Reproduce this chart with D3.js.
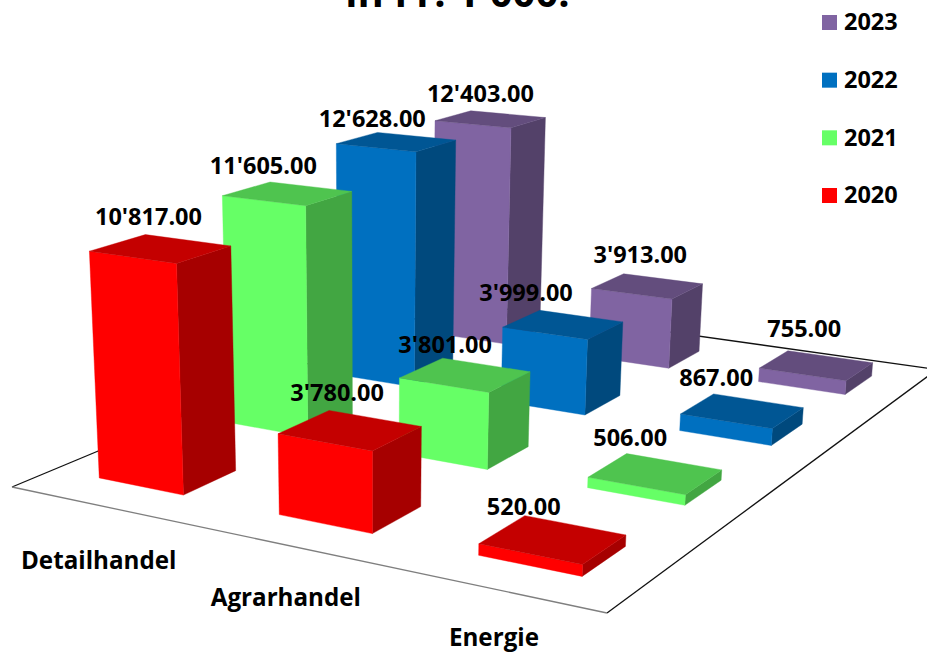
<!DOCTYPE html>
<html>
<head>
<meta charset="utf-8">
<script src="https://cdn.jsdelivr.net/npm/d3@7"></script>
<style>
  html, body { margin: 0; padding: 0; background: #fff; overflow: hidden; }
  svg { display: block; font-family: "Open Sans", Lato, sans-serif; font-weight: 700; }
</style>
</head>
<body>
<div id="chart"></div>
<script>
const categories = ["Detailhandel", "Agrarhandel", "Energie"];
const years = ["2020", "2021", "2022", "2023"];
const values2020 = [10817, 3780, 520];
const values2021 = [11605, 3801, 506];
const values2022 = [12628, 3999, 867];
const values2023 = [12403, 3913, 755];
const seriesValues = [values2020, values2021, values2022, values2023];
const seriesColors = ["#ff0000", "#66ff66", "#0070c0", "#8064a2"];
const title = "in Fr. 1'000.";

const width = 927, height = 653;

// floor corners on screen: left, front, right, back (right one is past the page edge)
const floor = [[12, 487], [607, 613], [937, 369.5], [455, 302]];
// vanishing point of the vertical edges
const vanish = [370, 6700];

// label nudges from the centre of each bar top, [category][series]
const labelNudge = [
  [[-12, -32], [-24, -28], [-24, -23], [-10, -25]],
  [[-13, -37], [-20, -30], [-37, -32], [-7, -31]],
  [[-29, -33], [-25, -36], [-26, -33], [-12, -37]]
];
const categoryLabelDy = [55, 53, 48];

const homography = squareToQuad(floor);

const uScale = d3.scaleBand().domain(categories).range([0, 1]).paddingInner(0.52).paddingOuter(0.26);
const vScale = d3.scaleBand().domain(years).range([0, 1]).paddingInner(0.6).paddingOuter(0.3);
const zScale = d3.scaleLinear().domain([0, 1000]).range([0, 0.00329]);
const legendY = d3.scalePoint().domain(years.slice().reverse()).range([22, 195]);

function squareToQuad(q) {
  const [[x0, y0], [x1, y1], [x2, y2], [x3, y3]] = q;
  const dx1 = x1 - x2, dx2 = x3 - x2, sx = x0 - x1 + x2 - x3;
  const dy1 = y1 - y2, dy2 = y3 - y2, sy = y0 - y1 + y2 - y3;
  const det = dx1 * dy2 - dx2 * dy1;
  const g = (sx * dy2 - dx2 * sy) / det;
  const h = (dx1 * sy - sx * dy1) / det;
  return {
    a: x1 - x0 + g * x1, b: x3 - x0 + h * x3, c: x0,
    d: y1 - y0 + g * y1, e: y3 - y0 + h * y3, f: y0,
    g, h
  };
}

// u along the front edge, v into the depth, z up
function project(u, v, z) {
  const m = homography;
  const w = m.g * u + m.h * v + 1;
  const x = (m.a * u + m.b * v + m.c) / w;
  const y = (m.d * u + m.e * v + m.f) / w;
  const s = w / (w - z);
  return [vanish[0] + (x - vanish[0]) * s, vanish[1] + (y - vanish[1]) * s];
}

function shade(color, k) {
  const c = d3.rgb(color);
  return d3.rgb(c.r * k, c.g * k, c.b * k).formatHex();
}

function formatValue(n) {
  return d3.format(",.2f")(n).replace(/,/g, "'");
}

const svg = d3.select("#chart").append("svg")
  .attr("width", width)
  .attr("height", height)
  .attr("viewBox", [0, 0, width, height]);

const line = d3.line();

// Floor
svg.append("path")
  .attr("d", line(floor) + "Z")
  .attr("fill", "#fff")
  .attr("stroke", "none");
[[3, 0, "#111"], [3, 2, "#111"], [2, 1, "#111"], [0, 1, "#7f7f7f"]].forEach(([a, b, color]) => {
  svg.append("path")
    .attr("d", line([floor[a], floor[b]]))
    .attr("fill", "none")
    .attr("stroke", color)
    .attr("stroke-width", 1.3);
});

// Bars, back row first
const bars = [];
years.forEach((year, s) => {
  categories.forEach((cat, c) => {
    bars.push({ cat, c, year, s, value: seriesValues[s][c], color: seriesColors[s] });
  });
});
bars.sort((a, b) => (b.s - a.s) || (a.c - b.c));

const barLayer = svg.append("g");
bars.forEach(d => {
  const u0 = uScale(d.cat), u1 = u0 + uScale.bandwidth();
  const v0 = vScale(d.year), v1 = v0 + vScale.bandwidth();
  const z = zScale(d.value);
  const faces = [
    { pts: [[u1, v0, 0], [u1, v1, 0], [u1, v1, z], [u1, v0, z]], fill: shade(d.color, 0.65) },
    { pts: [[u0, v0, 0], [u1, v0, 0], [u1, v0, z], [u0, v0, z]], fill: d.color },
    { pts: [[u0, v0, z], [u1, v0, z], [u1, v1, z], [u0, v1, z]], fill: shade(d.color, 0.77) }
  ];
  barLayer.append("g")
    .selectAll("path")
    .data(faces)
    .join("path")
    .attr("d", f => line(f.pts.map(p => project(p[0], p[1], p[2]))) + "Z")
    .attr("fill", f => f.fill)
    .attr("stroke", f => f.fill)
    .attr("stroke-width", 0.4);
});

// Value labels sit above every bar
bars.forEach(d => {
  const u = uScale(d.cat) + uScale.bandwidth() / 2;
  const v = vScale(d.year) + vScale.bandwidth() / 2;
  const p = project(u, v, zScale(d.value));
  const nudge = labelNudge[d.c][d.s];
  svg.append("text")
    .attr("x", p[0] + nudge[0])
    .attr("y", p[1] + nudge[1])
    .attr("dy", "0.35em")
    .attr("text-anchor", "middle")
    .attr("font-size", 23.5)
    .attr("fill", "#000")
    .text(formatValue(d.value));
});

// Category labels under the front edge
categories.forEach((cat, i) => {
  const p = project(uScale(cat) + uScale.bandwidth() / 2, 0, 0);
  svg.append("text")
    .attr("x", p[0])
    .attr("y", p[1] + categoryLabelDy[i])
    .attr("dy", "0.35em")
    .attr("text-anchor", "middle")
    .attr("font-size", 24.2)
    .attr("fill", "#000")
    .text(cat);
});

// Legend
const legend = svg.append("g");
years.forEach((year, s) => {
  legend.append("rect")
    .attr("x", 822)
    .attr("y", legendY(year) - 7)
    .attr("width", 15)
    .attr("height", 15)
    .attr("fill", seriesColors[s]);
  legend.append("text")
    .attr("x", 844)
    .attr("y", legendY(year))
    .attr("dy", "0.35em")
    .attr("font-size", 23.5)
    .attr("fill", "#000")
    .text(year);
});

// Title, cut by the top of the page
svg.append("text")
  .attr("x", 457.5)
  .attr("y", 7)
  .attr("text-anchor", "middle")
  .attr("font-size", 40)
  .attr("fill", "#000")
  .text(title);
</script>
</body>
</html>
